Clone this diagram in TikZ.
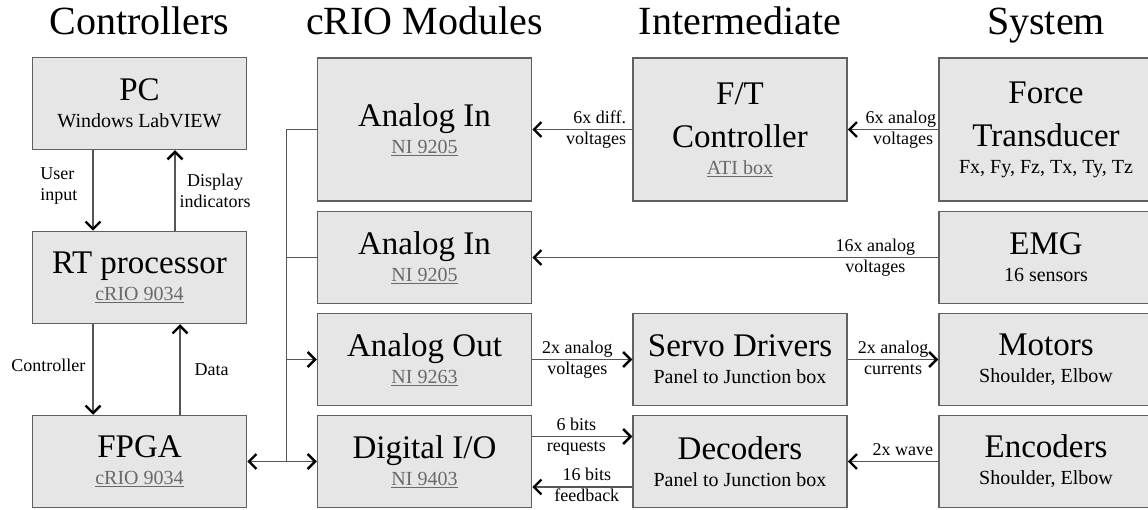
\documentclass[tikz,border=0pt]{standalone}
\usepackage{fontspec}
\setmainfont{Liberation Serif}
\usetikzlibrary{arrows.meta}
\definecolor{boxfill}{HTML}{E6E6E6}
\definecolor{boxline}{HTML}{606060}
\definecolor{linegray}{HTML}{555555}
\definecolor{refgray}{HTML}{6A6A6A}
\newcommand{\boxsub}[1]{{\fontsize{20}{24}\selectfont #1}}
\newcommand{\boxref}[1]{{\fontsize{20}{24}\selectfont\color{refgray}\underline{#1}}}
\begin{document}
\begin{tikzpicture}[x=1pt,y=-1pt,
    >={Straight Barb[length=7.5pt,width=15pt,line width=2.4pt,color=black]},
    head/.style={anchor=base, font=\fontsize{40}{48}\selectfont},
    blk/.style={draw=boxline, fill=boxfill, line width=1.5pt, inner sep=0pt, align=center,
      minimum width=214pt, font=\fontsize{33}{43}\selectfont},
    highbox/.style={blk, minimum height=143pt},
    lowbox/.style={blk, minimum height=92pt},
    wire/.style={draw=linegray, line width=1.4pt},
    arr/.style={wire, ->},
    lbl/.style={font=\fontsize{18}{21}\selectfont, inner sep=1.5pt, text height=12.5pt, text depth=4pt},
    sidelbl/.style={font=\fontsize{18}{21}\selectfont, inner sep=2pt}]
        \clip (0,0) rectangle (1148,510);
        \node[head] (hctrl) at (139.5,35) {Controllers};
        \node[head] (hcrio) at (424.5,35) {cRIO Modules};
        \node[head] (hmid) at (740,35) {Intermediate};
        \node[head] (hsys) at (1046,35) {System};
        \node[lowbox] (pc) at (139.5,103.5) {PC\\[-16pt]\boxsub{Windows LabVIEW}};
        \node[lowbox] (rt) at (139.5,277.5) {RT processor\\[-16pt]\boxref{cRIO 9034}};
        \node[lowbox] (fpga) at (139.5,461.5) {FPGA\\[-16pt]\boxref{cRIO 9034}};
        \node[highbox] (ain1) at (424.5,129.5) {Analog In\\[-16pt]\boxref{NI 9205}};
        \node[lowbox] (ain2) at (424.5,257.5) {Analog In\\[-16pt]\boxref{NI 9205}};
        \node[lowbox] (aout) at (424.5,359.5) {Analog Out\\[-16pt]\boxref{NI 9263}};
        \node[lowbox] (dio) at (424.5,461.5) {Digital I/O\\[-16pt]\boxref{NI 9403}};
        \node[highbox] (ftc) at (740,129.5) {F/T\\Controller\\[-16pt]\boxref{ATI box}};
        \node[lowbox] (servo) at (740,359.5) {Servo Drivers\\[-16pt]\boxsub{Panel to Junction box}};
        \node[lowbox] (dec) at (740,461.5) {Decoders\\[-16pt]\boxsub{Panel to Junction box}};
        \node[highbox] (force) at (1046,129.5) {Force\\Transducer\\[-16pt]\boxsub{Fx, Fy, Fz, Tx, Ty, Tz}};
        \node[lowbox] (emg) at (1046,257.5) {EMG\\[-16pt]\boxsub{16 sensors}};
        \node[lowbox] (motors) at (1046,359.5) {Motors\\[-16pt]\boxsub{Shoulder, Elbow}};
        \node[lowbox] (enc) at (1046,461.5) {Encoders\\[-16pt]\boxsub{Shoulder, Elbow}};
        \draw[arr] ([xshift=-46.5pt]pc.south) -- ([xshift=-46.5pt]rt.north)
            node[midway, sidelbl, left=13pt, yshift=4pt, align=left] (uin) {User\\input};
        \draw[arr] ([xshift=35.5pt]rt.north) -- ([xshift=35.5pt]pc.south)
            node[midway, sidelbl, right=2pt, align=center] (disp) {Display\\indicators};
        \draw[arr] ([xshift=-46.5pt]rt.south) -- ([xshift=-46.5pt]fpga.north)
            node[midway, sidelbl, left=5pt, yshift=4pt] (ctl) {Controller};
        \draw[arr] ([xshift=40.5pt]fpga.north) -- ([xshift=40.5pt]rt.south)
            node[midway, sidelbl, right=12pt] (dat) {Data};
        \draw[wire] (ain1.west) -- ++(-30pt,0) coordinate (bustop) -- (bustop |- dio.west);
        \draw[wire] (ain2.west) -- (ain2.west -| bustop);
        \draw[arr] (aout.west -| bustop) -- (aout.west);
        \draw[wire, <->] (fpga.east) -- (dio.west);
        \draw[arr] (ftc.west) -- (ain1.east)
            node[pos=0, lbl, anchor=south east, xshift=-4pt] (ftca) {6x diff.}
            node[pos=0, lbl, anchor=north east, xshift=-4pt] (ftcb) {voltages};
        \draw[arr] (force.west) -- (ftc.east)
            node[pos=0, lbl, anchor=south east] (fta) {6x analog}
            node[pos=0, lbl, anchor=north east, xshift=-3pt] (ftb) {voltages};
        \draw[arr] (emg.west) -- (ain2.east)
            node[pos=0.155, lbl, above] (emga) {16x analog}
            node[pos=0.155, lbl, below] (emgb) {voltages};
        \draw[arr] (aout.east) -- (servo.west)
            node[pos=0.45, lbl, above] (aouta) {2x analog}
            node[pos=0.45, lbl, below] (aoutb) {voltages};
        \draw[arr] (servo.east) -- (motors.west)
            node[midway, lbl, above] (srva) {2x analog}
            node[midway, lbl, below] (srvb) {currents};
        \draw[arr] ([yshift=25pt]dio.east) -- ([yshift=25pt]dec.west)
            node[pos=0.44, lbl, above] (reqa) {6 bits}
            node[pos=0.44, lbl, below] (reqb) {requests};
        \draw[arr] ([yshift=-25.5pt]dec.west) -- ([yshift=-25.5pt]dio.east)
            node[pos=0.455, lbl, above] (fba) {16 bits}
            node[pos=0.455, lbl, below] (fbb) {feedback};
        \draw[arr] (enc.west) -- (dec.east)
            node[pos=0, lbl, anchor=south east, xshift=-3pt] (wav) {2x wave};
    \end{tikzpicture}
\end{document}
